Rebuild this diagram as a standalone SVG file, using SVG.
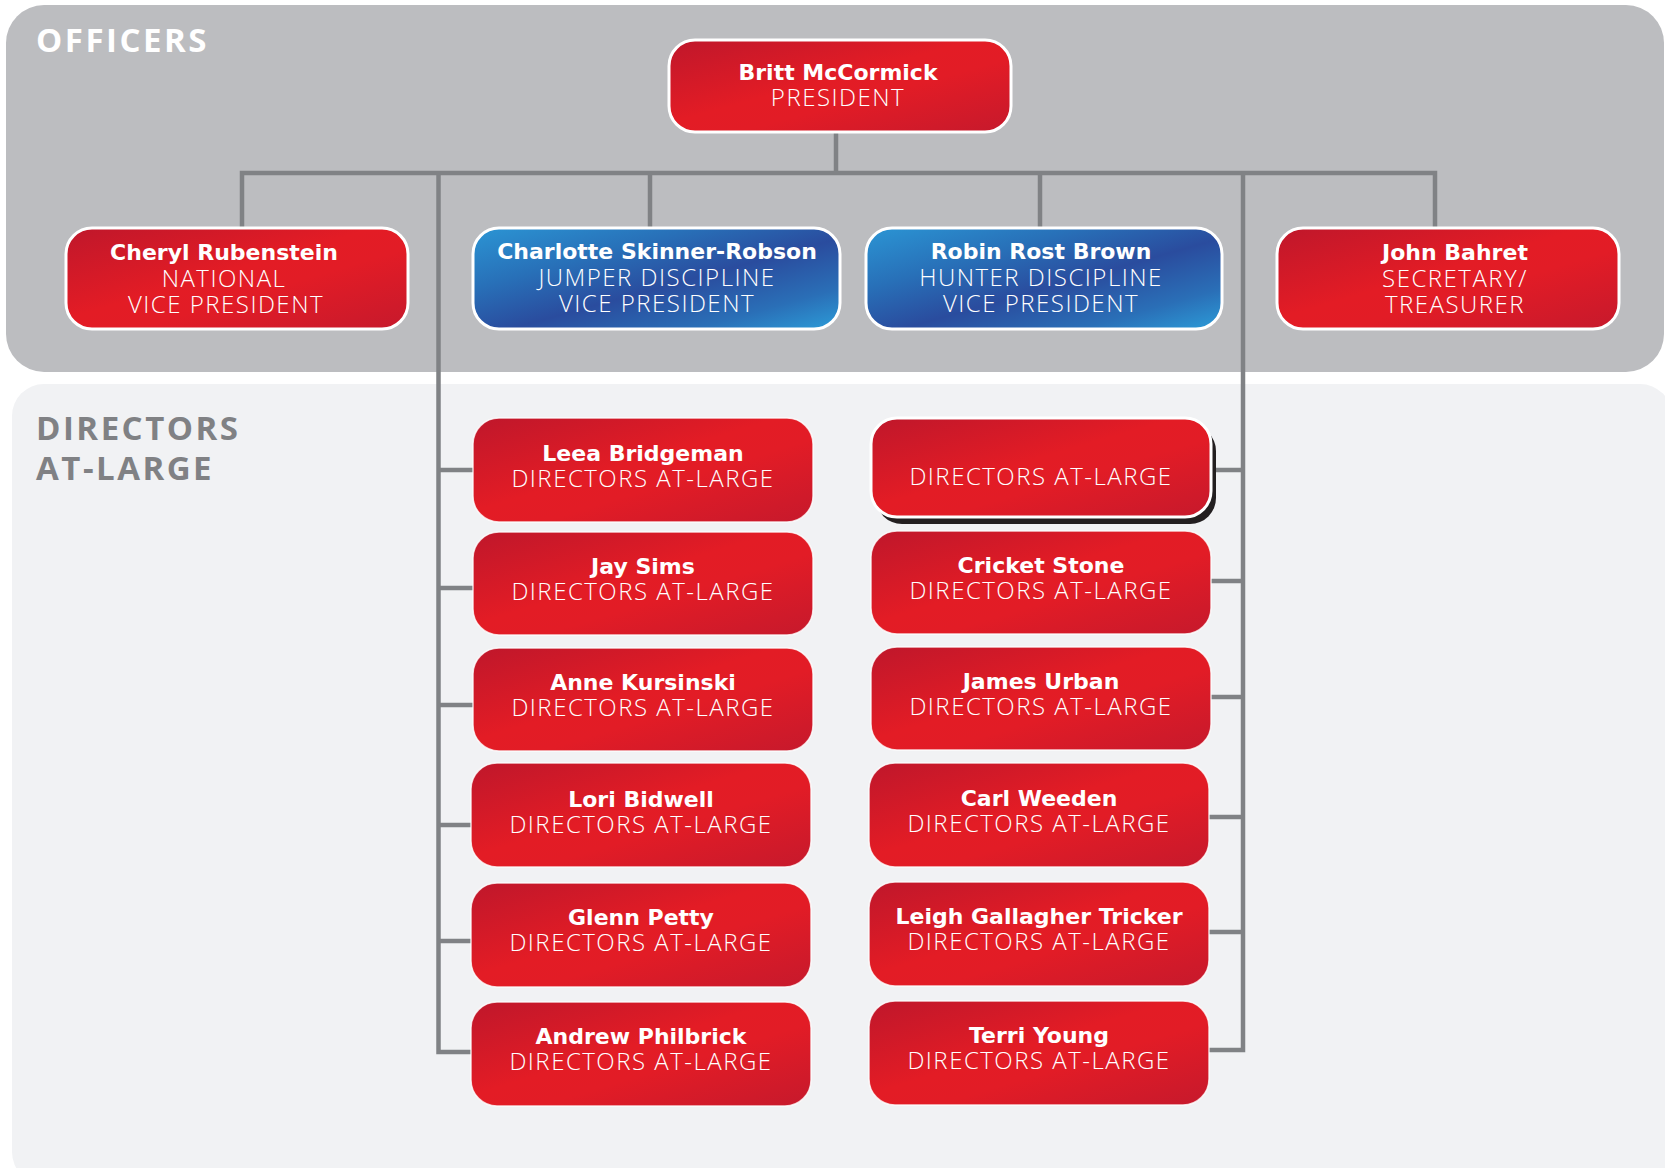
<svg xmlns="http://www.w3.org/2000/svg" width="1665" height="1168" viewBox="0 0 1665 1168">
<defs>
<linearGradient id="red" x1="0" y1="0" x2="1" y2="1">
<stop offset="0" stop-color="#bf172b"/>
<stop offset="0.45" stop-color="#e31c25"/>
<stop offset="0.6" stop-color="#e21c26"/>
<stop offset="1" stop-color="#c6192c"/>
</linearGradient>
<linearGradient id="blue" x1="0" y1="0" x2="1" y2="1">
<stop offset="0" stop-color="#2b95d4"/>
<stop offset="0.3" stop-color="#2870b8"/>
<stop offset="0.55" stop-color="#2a4c9e"/>
<stop offset="0.8" stop-color="#2a6fb7"/>
<stop offset="1" stop-color="#2c9cd8"/>
</linearGradient>
<style>
.panel-o{fill:#bcbdc0}
.panel-d{fill:#f1f2f4}
.hdr{font-family:"Open Sans","DejaVu Sans",sans-serif;font-weight:700;font-size:33px;letter-spacing:2.5px}
.off{fill:url(#red);stroke:#ffffff;stroke-width:3}
.offb{fill:url(#blue);stroke:#ffffff;stroke-width:3}
.dir{fill:url(#red);stroke:#ffffff;stroke-width:1.5;stroke-opacity:0.8}
.nm{font-family:"DejaVu Sans","Open Sans",sans-serif;font-weight:700;font-size:22px;fill:#ffffff;text-anchor:middle}
.tt{font-family:"Open Sans","Lato",sans-serif;font-weight:300;font-size:24px;fill:#ffffff;text-anchor:middle;letter-spacing:1.5px}
.ln{fill:none;stroke:#808285;stroke-width:4.5}
</style>
</defs>

<rect class="panel-o" x="6" y="5" width="1658" height="367" rx="38"/>
<rect class="panel-d" x="12" y="384" width="1660" height="800" rx="32"/>
<text class="hdr" x="36" y="52" fill="#ffffff" font-size="32">OFFICERS</text>
<text class="hdr" x="36" y="440" fill="#808184">DIRECTORS</text>
<text class="hdr" x="36" y="480" fill="#808184">AT-LARGE</text>

<g id="connectors">
<path class="ln" d="M836 132 V173"/>
<path class="ln" d="M242 228 V173 H1435 V228"/>
<path class="ln" d="M650 173 V228"/>
<path class="ln" d="M1040 173 V228"/>
<path class="ln" d="M438.5 173 V1052 H472"/>
<path class="ln" d="M438 470 H474 M438 588 H474 M438 705 H474 M438 825 H472 M438 941 H472"/>
<path class="ln" d="M1243 173 V1050 H1209"/>
<path class="ln" d="M1243 470 H1215 M1243 581 H1211 M1243 697 H1211 M1243 817 H1209 M1243 932 H1209"/>
</g>

<g id="president">
<rect class="off" x="669" y="40" width="342" height="92" rx="26"/>
<text class="nm" x="838" y="80">Britt McCormick</text>
<text class="tt" x="838" y="106">PRESIDENT</text>
</g>

<g id="cheryl">
<rect class="off" x="66" y="228" width="342" height="101" rx="26"/>
<text class="nm" x="224" y="260">Cheryl Rubenstein</text>
<text class="tt" x="224" y="287">NATIONAL</text>
<text class="tt" x="226" y="313">VICE PRESIDENT</text>
</g>

<g id="charlotte">
<rect class="offb" x="473" y="228" width="367" height="101" rx="26"/>
<text class="nm" x="657" y="259">Charlotte Skinner-Robson</text>
<text class="tt" x="657" y="286">JUMPER DISCIPLINE</text>
<text class="tt" x="657" y="312">VICE PRESIDENT</text>
</g>

<g id="robin">
<rect class="offb" x="866" y="228" width="356" height="101" rx="26"/>
<text class="nm" x="1041" y="259">Robin Rost Brown</text>
<text class="tt" x="1041" y="286">HUNTER DISCIPLINE</text>
<text class="tt" x="1041" y="312">VICE PRESIDENT</text>
</g>

<g id="john">
<rect class="off" x="1277" y="228" width="342" height="101" rx="26"/>
<text class="nm" x="1455" y="260">John Bahret</text>
<text class="tt" x="1455" y="287">SECRETARY/</text>
<text class="tt" x="1455" y="313">TREASURER</text>
</g>

<g id="leea">
<rect class="dir" x="473" y="418" width="340" height="104" rx="26"/>
<text class="nm" x="643" y="461">Leea Bridgeman</text>
<text class="tt" x="643" y="487">DIRECTORS AT-LARGE</text>
</g>
<g id="jay">
<rect class="dir" x="473" y="532" width="340" height="103" rx="26"/>
<text class="nm" x="643" y="574">Jay Sims</text>
<text class="tt" x="643" y="600">DIRECTORS AT-LARGE</text>
</g>
<g id="anne">
<rect class="dir" x="473" y="648" width="340" height="103" rx="26"/>
<text class="nm" x="643" y="690">Anne Kursinski</text>
<text class="tt" x="643" y="716">DIRECTORS AT-LARGE</text>
</g>
<g id="lori">
<rect class="dir" x="471" y="763" width="340" height="104" rx="26"/>
<text class="nm" x="641" y="807">Lori Bidwell</text>
<text class="tt" x="641" y="833">DIRECTORS AT-LARGE</text>
</g>
<g id="glenn">
<rect class="dir" x="471" y="883" width="340" height="104" rx="26"/>
<text class="nm" x="641" y="925">Glenn Petty</text>
<text class="tt" x="641" y="951">DIRECTORS AT-LARGE</text>
</g>
<g id="andrew">
<rect class="dir" x="471" y="1002" width="340" height="104" rx="26"/>
<text class="nm" x="641" y="1044">Andrew Philbrick</text>
<text class="tt" x="641" y="1070">DIRECTORS AT-LARGE</text>
</g>

<g id="blank-director">
<rect x="876" y="425" width="340" height="99" rx="26" fill="#231f20"/>
<rect class="off" x="871" y="418" width="340" height="99" rx="26" stroke-width="2.5"/>
<text class="tt" x="1041" y="485">DIRECTORS AT-LARGE</text>
</g>
<g id="cricket">
<rect class="dir" x="871" y="531" width="340" height="103" rx="26"/>
<text class="nm" x="1041" y="573">Cricket Stone</text>
<text class="tt" x="1041" y="599">DIRECTORS AT-LARGE</text>
</g>
<g id="james">
<rect class="dir" x="871" y="647" width="340" height="103" rx="26"/>
<text class="nm" x="1041" y="689">James Urban</text>
<text class="tt" x="1041" y="715">DIRECTORS AT-LARGE</text>
</g>
<g id="carl">
<rect class="dir" x="869" y="763" width="340" height="104" rx="26"/>
<text class="nm" x="1039" y="806">Carl Weeden</text>
<text class="tt" x="1039" y="832">DIRECTORS AT-LARGE</text>
</g>
<g id="leigh">
<rect class="dir" x="869" y="882" width="340" height="104" rx="26"/>
<text class="nm" x="1039" y="924">Leigh Gallagher Tricker</text>
<text class="tt" x="1039" y="950">DIRECTORS AT-LARGE</text>
</g>
<g id="terri">
<rect class="dir" x="869" y="1001" width="340" height="104" rx="26"/>
<text class="nm" x="1039" y="1043">Terri Young</text>
<text class="tt" x="1039" y="1069">DIRECTORS AT-LARGE</text>
</g>
</svg>
